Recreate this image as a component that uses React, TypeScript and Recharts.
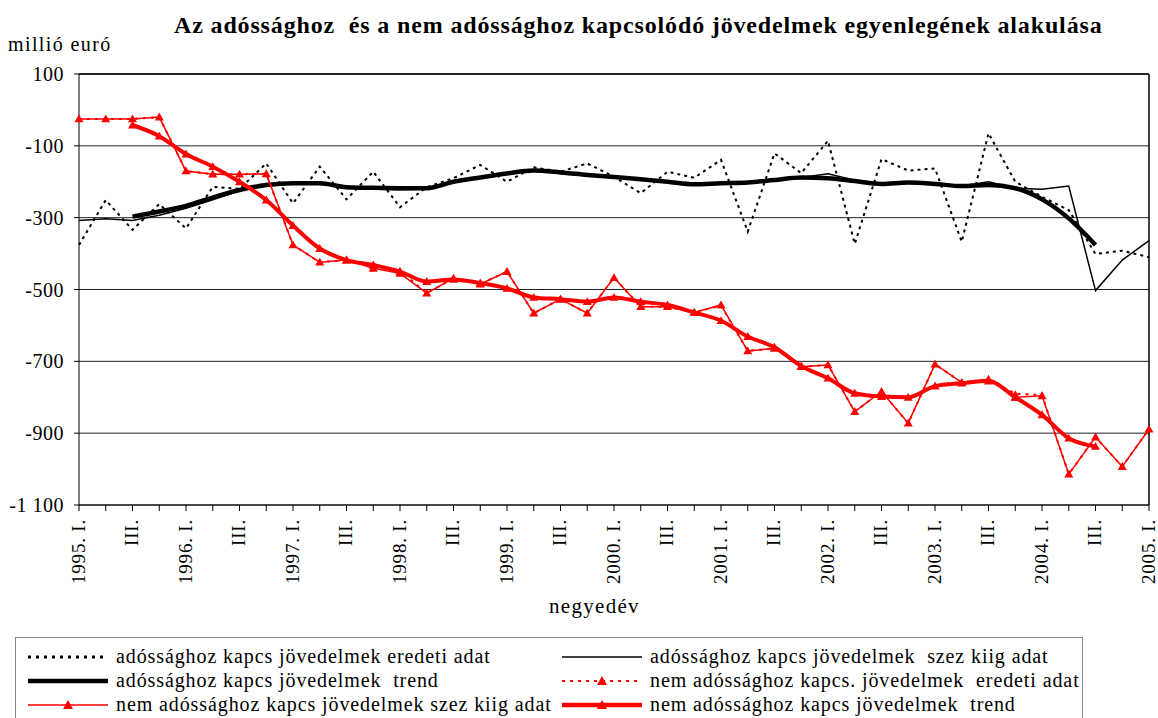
import { LineChart, Line, XAxis, YAxis, CartesianGrid, ReferenceLine } from "recharts";

// quarters 1995 I .. 2005 I
const quarters = [
  "1995 I", "1995 II", "1995 III", "1995 IV",
  "1996 I", "1996 II", "1996 III", "1996 IV",
  "1997 I", "1997 II", "1997 III", "1997 IV",
  "1998 I", "1998 II", "1998 III", "1998 IV",
  "1999 I", "1999 II", "1999 III", "1999 IV",
  "2000 I", "2000 II", "2000 III", "2000 IV",
  "2001 I", "2001 II", "2001 III", "2001 IV",
  "2002 I", "2002 II", "2002 III", "2002 IV",
  "2003 I", "2003 II", "2003 III", "2003 IV",
  "2004 I", "2004 II", "2004 III", "2004 IV",
  "2005 I"
];

// adóssághoz kapcs. jövedelmek
const debtOriginal = [
  -376, -251, -334, -262, -330, -214, -220, -149, -260, -158,
  -249, -172, -271, -215, -190, -153, -200, -160, -172, -149,
  -186, -232, -172, -189, -139, -339, -121, -176, -86, -373,
  -137, -169, -163, -367, -65, -200, -242, -279, -401, -392, -410
];
const debtAdjusted = [
  -308, -303, -308, -293, -274, -250, -225, -209, -206, -206,
  -217, -220, -222, -220, -200, -188, -177, -169, -172, -180,
  -186, -193, -200, -207, -205, -200, -195, -188, -178, -196,
  -204, -202, -205, -212, -200, -218, -221, -212, -503, -418, -364
];
const debtTrend = [
  null, null, -297, -283, -267, -244, -223, -209, -204, -204,
  -215, -217, -218, -218, -200, -188, -177, -169, -174, -181,
  -187, -193, -200, -207, -204, -202, -195, -188, -190, -198,
  -206, -202, -206, -212, -209, -218, -249, -302, -376, null, null
];

// nem adóssághoz kapcs. jövedelmek
const nonDebtOriginal = [
  -25, -25, -25, -20, -170, -179, -179, -178, -376, -424,
  -418, -436, -448, -510, -469, -485, -450, -566, -527, -566,
  -467, -548, -548, -564, -545, -671, -664, -715, -710, -840,
  -784, -872, -708, -759, -750, -790, -794, -1014, -911, -993, -889
];
const nonDebtAdjusted = [
  -25, -25, -25, -20, -170, -179, -179, -178, -376, -424,
  -418, -441, -455, -510, -469, -485, -450, -566, -527, -566,
  -467, -548, -548, -564, -543, -671, -664, -715, -710, -840,
  -784, -872, -708, -759, -750, -800, -796, -1014, -911, -993, -889
];
const nonDebtTrend = [
  null, null, -42, -73, -123, -158, -200, -251, -322, -386,
  -418, -432, -450, -478, -472, -482, -497, -522, -527, -534,
  -522, -534, -543, -564, -587, -631, -661, -713, -747, -789,
  -798, -800, -769, -761, -755, -800, -849, -914, -937, null, null
];

const yTicks = [100, -100, -300, -500, -700, -900, -1100];

const data = quarters.map((q, i) => ({
  q,
  dOrig: debtOriginal[i],
  dAdj: debtAdjusted[i],
  dTrend: debtTrend[i],
  nOrig: nonDebtOriginal[i],
  nAdj: nonDebtAdjusted[i],
  nTrend: nonDebtTrend[i]
}));

const FONT = "'Liberation Serif', 'Times New Roman', serif";
const RED = "#ff0000";

function tickText(q: string) {
  const [year, qq] = q.split(" ");
  if (qq === "I") return `${year}. I.`;
  if (qq === "III") return "III.";
  return "";
}

function QuarterTick(props: any) {
  const { x, y, payload } = props;
  const label = tickText(payload.value);
  if (!label) return <g />;
  return (
    <g transform={`translate(${x},${y})`}>
      <text
        transform="rotate(-90)"
        x={-6}
        y={0}
        dy="0.3em"
        textAnchor="end"
        fontSize={19}
        letterSpacing={0.8}
        fontFamily={FONT}
        fill="#000"
      >
        {label}
      </text>
    </g>
  );
}

const triangleDot = (size: number) => (props: any) => {
  const { cx, cy, index } = props;
  if (cx == null || cy == null || props.value == null) return <g key={`t-${index}`} />;
  return (
    <path
      key={`t-${index}`}
      d={`M${cx},${cy - size} L${cx + size},${cy + size * 0.75} L${cx - size},${cy + size * 0.75} Z`}
      fill={RED}
    />
  );
};

function Swatch({ color, width, dash, marker }: { color: string; width: number; dash?: string; marker?: boolean }) {
  return (
    <svg width={80} height={14} style={{ flex: "none" }}>
      <line x1={0} y1={7} x2={80} y2={7} stroke={color} strokeWidth={width} strokeDasharray={dash} />
      {marker && <path d="M40,2 L45,11 L35,11 Z" fill={RED} />}
    </svg>
  );
}

function LegendItem(props: { color: string; width: number; dash?: string; marker?: boolean; text: string; left: number; top: number }) {
  return (
    <div style={{ position: "absolute", left: props.left, top: props.top, display: "flex", alignItems: "center", gap: 8, whiteSpace: "pre" }}>
      <Swatch color={props.color} width={props.width} dash={props.dash} marker={props.marker} />
      <span style={{ fontSize: 20, letterSpacing: 0.9 }}>{props.text}</span>
    </div>
  );
}

export default function App() {
  return (
    <div style={{ position: "absolute", left: 0, top: 0, width: 1158, height: 718, background: "#fff", fontFamily: FONT, color: "#000", overflow: "hidden" }}>
      <div style={{ position: "absolute", left: 174, top: 12, fontSize: 24, fontWeight: "bold", whiteSpace: "pre", letterSpacing: 0.85 }}>
        {"Az adóssághoz  és a nem adóssághoz kapcsolódó jövedelmek egyenlegének alakulása"}
      </div>
      <div style={{ position: "absolute", left: 8, top: 33, fontSize: 20, letterSpacing: 1.4 }}>millió euró</div>

      <LineChart width={1158} height={718} data={data} margin={{ top: 74, right: 9, bottom: 113, left: 9 }} style={{ overflow: "visible" }}>
        <CartesianGrid vertical={false} stroke="#222" strokeWidth={1} />
        <XAxis
          dataKey="q"
          interval={0}
          height={100}
          tick={<QuarterTick />}
          tickSize={6}
          axisLine={{ stroke: "#000" }}
          tickLine={{ stroke: "#000" }}
        />
        <YAxis
          type="number"
          domain={[-1100, 100]}
          ticks={yTicks}
          width={70}
          tickSize={5}
          tickMargin={10}
          axisLine={{ stroke: "#000" }}
          tickLine={{ stroke: "#000" }}
          tick={{ fill: "#000", fontSize: 20, fontFamily: FONT, letterSpacing: 0.5 }}
          tickFormatter={(v: number) => (v === -1100 ? "-1 100" : String(v))}
          interval={0}
        />
        <ReferenceLine y={100} stroke="#000" strokeWidth={1.5} />
        <ReferenceLine x="2005 I" stroke="#000" strokeWidth={1.5} />

        <Line type="linear" dataKey="dOrig" stroke="#000" strokeWidth={2} strokeDasharray="3 4" dot={false} isAnimationActive={false} />
        <Line type="linear" dataKey="dAdj" stroke="#000" strokeWidth={1.5} dot={false} isAnimationActive={false} />
        <Line type="monotone" dataKey="dTrend" stroke="#000" strokeWidth={4.5} dot={false} isAnimationActive={false} />

        <Line type="linear" dataKey="nOrig" stroke={RED} strokeWidth={2} strokeDasharray="3 5" dot={triangleDot(3.5)} isAnimationActive={false} />
        <Line type="linear" dataKey="nAdj" stroke={RED} strokeWidth={1.5} dot={triangleDot(4.5)} isAnimationActive={false} />
        <Line type="monotone" dataKey="nTrend" stroke={RED} strokeWidth={4} dot={triangleDot(4.5)} isAnimationActive={false} />
      </LineChart>

      <div style={{ position: "absolute", left: 549, top: 594, fontSize: 21, letterSpacing: 1.3 }}>negyedév</div>

      <div style={{ position: "absolute", left: 15, top: 637, width: 1068, height: 100, border: "1px solid #888", boxSizing: "border-box" }} />
      <LegendItem left={28} top={645} color="#000" width={3} dash="3 5" text="adóssághoz kapcs jövedelmek eredeti adat" />
      <LegendItem left={562} top={645} color="#000" width={1.5} text="adóssághoz kapcs jövedelmek  szez kiig adat" />
      <LegendItem left={28} top={669} color="#000" width={4.5} text="adóssághoz kapcs jövedelmek  trend" />
      <LegendItem left={562} top={669} color={RED} width={2} dash="3 5" marker text="nem adóssághoz kapcs. jövedelmek  eredeti adat" />
      <LegendItem left={28} top={693} color={RED} width={1.5} marker text="nem adóssághoz kapcs jövedelmek szez kiig adat" />
      <LegendItem left={562} top={693} color={RED} width={4.5} marker text="nem adóssághoz kapcs jövedelmek  trend" />
    </div>
  );
}
